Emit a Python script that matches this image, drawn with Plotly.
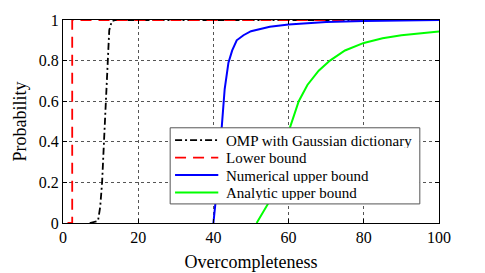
import plotly.graph_objects as go

omp_x = [7.1, 9.3, 9.9, 10.4, 10.9, 11.4, 11.8, 12.3, 13.0, 14.0, 100]
omp_y = [0, 0.01, 0.08, 0.2, 0.4, 0.6, 0.8, 0.95, 0.995, 1, 1]

lower_x = [1.2, 2.45, 2.45, 100]
lower_y = [0, 0, 1, 1]

num_x = [40, 40.5, 41, 41.5, 42, 42.5, 43, 44, 45, 46.2, 48, 50, 52, 55, 60, 65, 70, 80, 90, 100]
num_y = [0, 0.08, 0.18, 0.3, 0.43, 0.56, 0.66, 0.79, 0.85, 0.9, 0.925, 0.945, 0.955, 0.967, 0.978, 0.985, 0.99, 0.995, 0.998, 1]

ana_x = [51.5, 52.5, 53.5, 54.7, 56, 58, 60, 62.7, 65, 68, 71, 75, 80, 85, 90, 95, 100]
ana_y = [0, 0.03, 0.06, 0.1, 0.17, 0.32, 0.45, 0.6, 0.68, 0.75, 0.8, 0.85, 0.887, 0.91, 0.925, 0.935, 0.944]

series_names = ["OMP with Gaussian dictionary", "Lower bound",
                "Numerical upper bound", "Analytic upper bound"]

x_ticks = [0, 20, 40, 60, 80, 100]
y_ticks = [0, 0.2, 0.4, 0.6, 0.8, 1]
y_tick_text = ["0", "0.2", "0.4", "0.6", "0.8", "1"]

SERIF = "Liberation Serif, 'Times New Roman', Times, serif"

styles = [
    dict(color="black", width=1.8, dash="7px,3px,2px,3px"),
    dict(color="#ff0000", width=1.8, dash="11px,7px"),
    dict(color="#0000ff", width=2),
    dict(color="#00ff00", width=2),
]
data = [(omp_x, omp_y), (lower_x, lower_y), (num_x, num_y), (ana_x, ana_y)]

fig = go.Figure()
for (xs, ys), name, st in zip(data, series_names, styles):
    fig.add_trace(go.Scatter(x=xs, y=ys, mode="lines", name=name, line=st, showlegend=False))

axis_common = dict(showline=True, linecolor="black", linewidth=1, mirror="ticks",
                   ticks="inside", ticklen=4, tickcolor="black", automargin=False,
                   showgrid=True, gridcolor="#555555", gridwidth=1, griddash="dot",
                   zeroline=False, tickfont=dict(family=SERIF, size=16, color="black"))

fig.update_xaxes(range=[0, 100], tickvals=x_ticks, **axis_common,
                 title=dict(text="Overcompleteness", font=dict(family=SERIF, size=18, color="black"),
                            standoff=10))
fig.update_yaxes(range=[0, 1], tickvals=y_ticks, ticktext=y_tick_text, **axis_common,
                 title=dict(text="Probability", font=dict(family=SERIF, size=18, color="black"),
                            standoff=7))

# legend box (drawn manually, in paper coordinates of the plot area)
box_x0, box_x1, box_y0, box_y1 = 0.285, 0.949, 0.094, 0.469
fig.add_shape(type="rect", xref="paper", yref="paper", x0=box_x0, x1=box_x1, y0=box_y0, y1=box_y1,
              fillcolor="white", line=dict(color="#555555", width=1), layer="above")
item_y = [0.408, 0.322, 0.236, 0.150]
for name, st, yy in zip(series_names, styles, item_y):
    fig.add_shape(type="line", xref="paper", yref="paper", x0=0.298, x1=0.413, y0=yy, y1=yy,
                  line=st, layer="above")
    fig.add_annotation(xref="paper", yref="paper", x=0.427, y=yy, text=name, showarrow=False,
                       xanchor="left", yanchor="middle", height=15,
                       font=dict(family=SERIF, size=15, color="black"))

fig.update_layout(
    width=485, height=273,
    margin=dict(l=63, r=46, t=20, b=50),
    plot_bgcolor="white", paper_bgcolor="white",
    font=dict(family=SERIF),
    showlegend=False,
)

fig.write_html("out.html", config={"displayModeBar": False},
               post_script="document.body.style.margin='0px';document.body.style.overflow='hidden';")
